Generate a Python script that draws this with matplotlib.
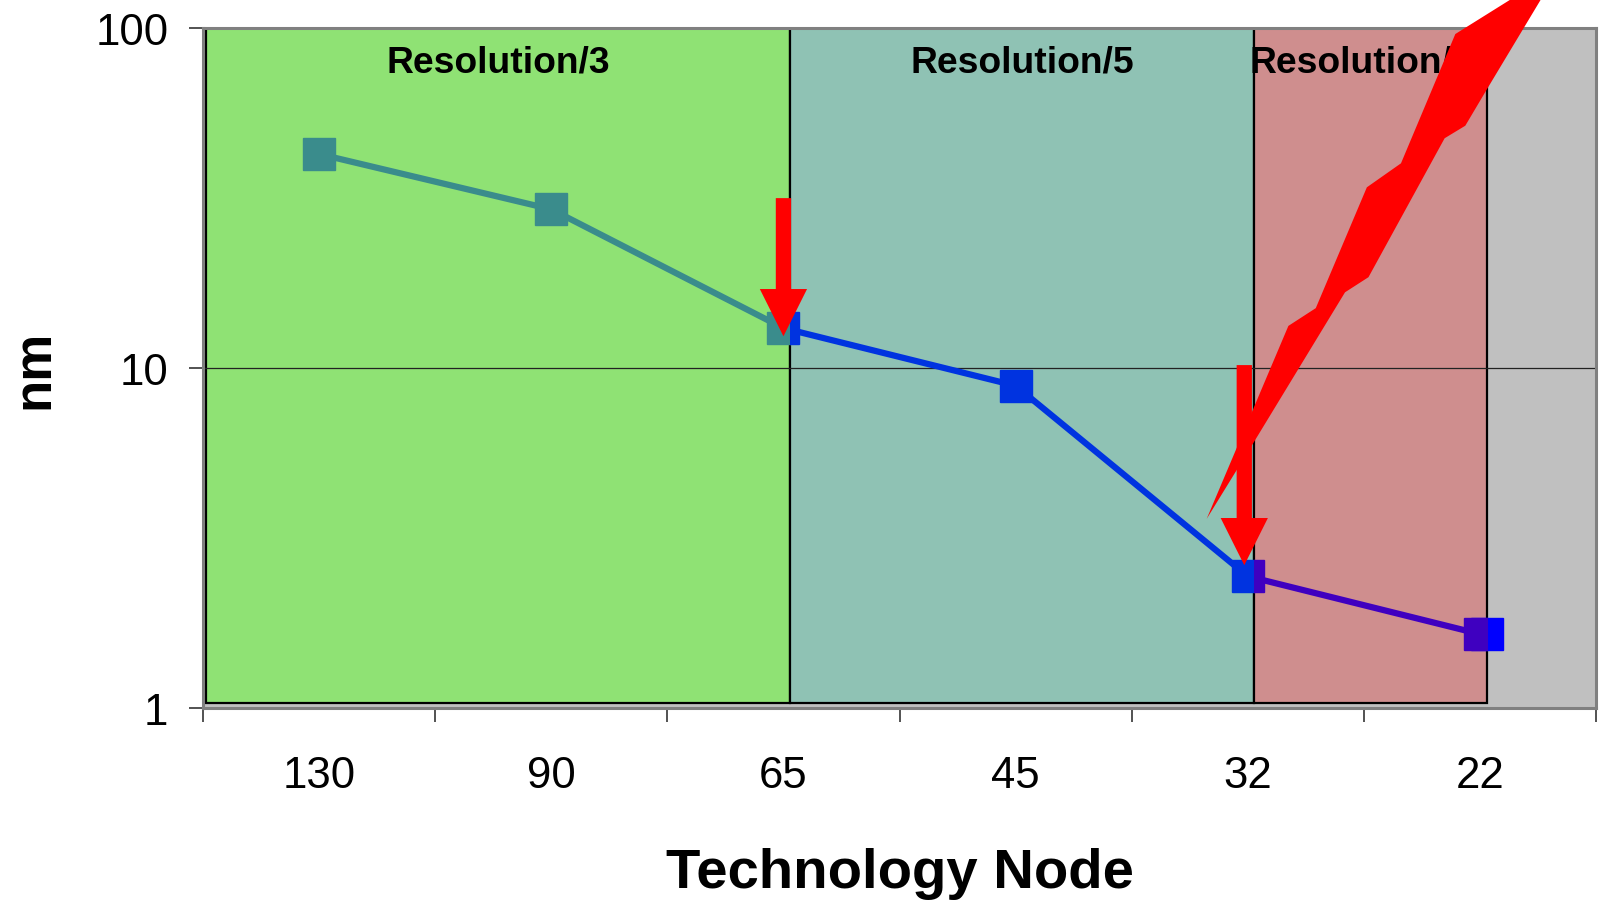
import numpy as np
import matplotlib
matplotlib.use('Agg')
import matplotlib.pyplot as plt
from matplotlib.patches import Rectangle, Polygon

plt.rcParams['font.family'] = ['Liberation Sans', 'DejaVu Sans']

nodes = ['130', '90', '65', '45', '32', '22']
nm = [42.6, 29.3, 13.1, 8.87, 2.44, 1.65]

# shaded regions (category positions)
region_edges = [-0.487, 2.027, 4.025, 5.03]
region_labels = ['Resolution/3', 'Resolution/5', 'Resolution/7']
region_label_x = [0.77, 3.03, 4.49]
region_colors = ['#8fe274', '#8fc2b4', '#cf8e8e']

# curve pieces, one per region
seg_idx = [(0, 2), (2, 4), (4, 5)]
seg_colors = ['#3a8c8c', '#0033e0', '#3f00c0']

# red arrows
arrow_x = [2.0, 3.985]
arrow_top = [31.6, 10.2]
arrow_tip = [12.4, 2.63]

# lightning bolt outline
bolt_x = [3.823, 4.175, 4.293, 4.513, 4.660, 4.894, 5.341, 5.031, 4.937, 4.848, 4.520, 4.419, 4.017]
bolt_y = [3.60, 13.3, 15.0, 34.0, 40.0, 96.0, 149.0, 66.2, 51.6, 47.4, 18.5, 16.7, 5.91]

fig = plt.figure(figsize=(16, 9.04), dpi=100)
ax = fig.add_axes([0.1269, 0.2157, 0.8706, 0.7522])
ax.set_facecolor('#c0c0c0')
ax.set_yscale('log')
ax.set_ylim(1, 100)
ax.set_xlim(-0.5, 5.5)

trans = ax.get_xaxis_transform()
rects = []
for i in range(3):
    r = Rectangle((region_edges[i], 0.007), region_edges[i + 1] - region_edges[i], 0.993,
                  transform=trans, fc=region_colors[i], ec='black', lw=1.6, zorder=1)
    ax.add_patch(r)
    rects.append(r)
    ax.text(region_label_x[i], 0.95, region_labels[i], transform=trans, ha='center', va='center',
            fontsize=26.8, fontweight='bold', zorder=2)

ax.axhline(10, color='#222222', lw=0.9, zorder=1.5)

x = np.arange(len(nodes))
nm_arr = np.array(nm)
ax.plot(x[5] + 0.03, nm_arr[5], 's', color='#0000ff', ms=23, zorder=2.5)
for (a, b), c, r in zip(seg_idx, seg_colors, rects):
    ln, = ax.plot(x[a:b + 1], nm_arr[a:b + 1], color=c, lw=4.5, marker='s', ms=23, zorder=3)
    ln.set_clip_path(r)

for xa, yt, yh in zip(arrow_x, arrow_top, arrow_tip):
    ax.annotate('', xy=(xa, yh), xytext=(xa, yt),
                arrowprops=dict(arrowstyle='simple,head_length=34,head_width=34,tail_width=11',
                                mutation_scale=1, color='red', lw=0, shrinkA=0, shrinkB=0),
                zorder=4)

bolt = Polygon(np.column_stack([bolt_x, bolt_y]), closed=True, fc='red', ec='none',
               zorder=5, clip_on=False)
ax.add_patch(bolt)

ax.set_yticks([1, 10, 100])
ax.set_yticklabels(['1', '10', '100'])
ax.yaxis.set_minor_locator(plt.NullLocator())
ax.set_xticks(np.arange(-0.5, 6, 1))
ax.set_xticklabels([])
ax.set_xticks(x, minor=True)
ax.set_xticklabels(nodes, minor=True)
ax.tick_params(axis='both', which='major', length=10, width=1.3, color='#444444', labelsize=31.5)
ax.tick_params(axis='y', which='major', pad=15)
ax.tick_params(axis='x', which='minor', length=0, labelsize=31.5, pad=34)

for s in ax.spines.values():
    s.set_color('#808080')
    s.set_linewidth(2.2)

ax.set_xlabel('Technology Node', fontsize=40.5, fontweight='bold', va='baseline')
ax.xaxis.set_label_coords(0.5, -0.263)
ax.set_ylabel('nm', fontsize=38, fontweight='bold', va='center')
ax.yaxis.set_label_coords(-0.121, 0.5)

fig.savefig('out.png', dpi=100)
